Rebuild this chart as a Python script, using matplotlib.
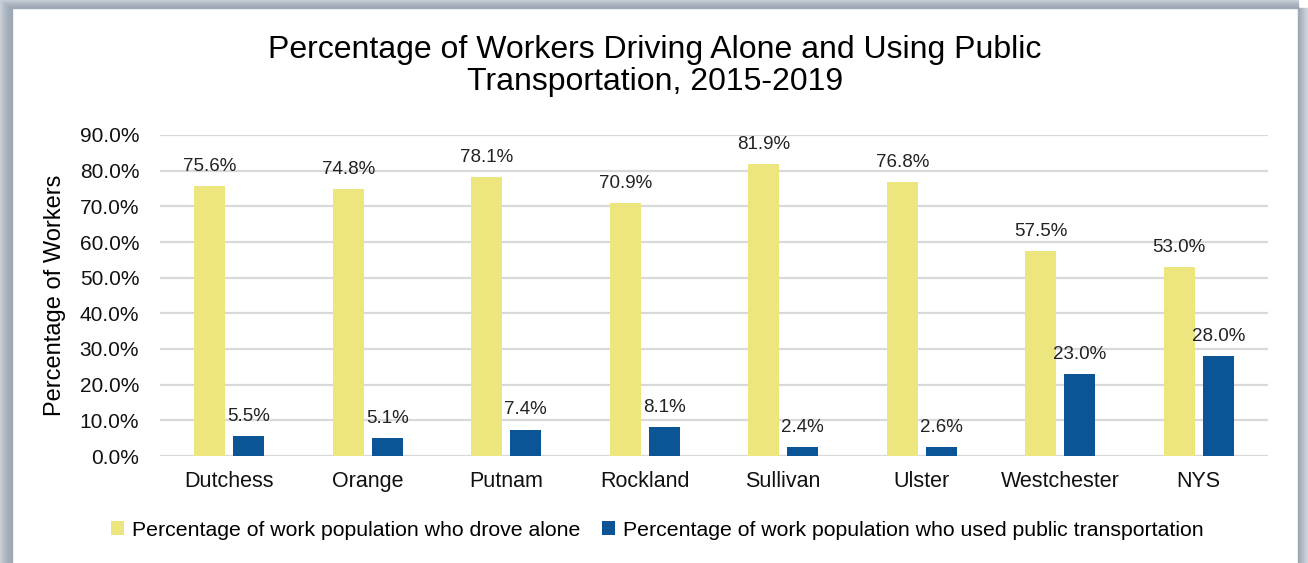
import matplotlib
matplotlib.use("Agg")
import matplotlib.pyplot as plt
import numpy as np
from matplotlib.patches import Rectangle
from matplotlib.ticker import FuncFormatter

plt.rcParams["font.family"] = ["Liberation Sans", "DejaVu Sans"]

counties = ["Dutchess", "Orange", "Putnam", "Rockland", "Sullivan", "Ulster", "Westchester", "NYS"]
drove_alone = [75.6, 74.8, 78.1, 70.9, 81.9, 76.8, 57.5, 53.0]
public_trans = [5.5, 5.1, 7.4, 8.1, 2.4, 2.6, 23.0, 28.0]

YEL = "#ede67e"
BLU = "#0b5495"

W, H = 1308, 563
fig = plt.figure(figsize=(W / 100, H / 100), dpi=100)

# grey frame around the chart
for i, c in enumerate(["#c7ced6", "#bcc4cd", "#b2bbc5", "#a9b3be", "#a3adb9", "#9fa9b5"]):
    fig.patches.append(Rectangle((i * 2 / W, 0), 2 / W, 1 - i * 1.4 / H, transform=fig.transFigure,
                                 color=c, zorder=0))
    fig.patches.append(Rectangle((i * 2 / W, 1 - (i + 1) * 1.4 / H), 1 - i * 2 / W - 10 / W, 1.4 / H,
                                 transform=fig.transFigure, color=c, zorder=0))
for i, c in enumerate(["#9fa9b5", "#aab3be", "#b6bec7", "#c2c9d0", "#ced3d9"]):
    fig.patches.append(Rectangle(((1298 + i * 2) / W, 0), 2 / W, 1 - 8 / H, transform=fig.transFigure,
                                 color=c, zorder=0))

ax = fig.add_axes([160 / W, 107 / H, 1108 / W, 321 / H])
x = np.arange(len(counties))
bw = 0.224
b1 = ax.bar(x - 0.141, drove_alone, bw, color=YEL, zorder=3)
b2 = ax.bar(x + 0.141, public_trans, bw, color=BLU, zorder=3)

for rect, v in zip(b1, drove_alone):
    ax.annotate(f"{v:.1f}%", (rect.get_x() + rect.get_width() / 2, v), xytext=(0, 8),
                textcoords="offset points", ha="center", va="bottom", fontsize=13.5, color="#222222")
for rect, v in zip(b2, public_trans):
    ax.annotate(f"{v:.1f}%", (rect.get_x() + rect.get_width() / 2, v), xytext=(0, 8),
                textcoords="offset points", ha="center", va="bottom", fontsize=13.5, color="#222222")

ax.set_xlim(-0.5, len(counties) - 0.5)
ax.set_ylim(0, 90)
ax.set_yticks(np.arange(0, 91, 10))
ax.yaxis.set_major_formatter(FuncFormatter(lambda v, p: f"{v:.1f}%"))
ax.set_xticks(x)
ax.set_xticklabels(counties)
ax.tick_params(axis="both", length=0, colors="#111111")
ax.tick_params(axis="y", pad=15, labelsize=15)
ax.tick_params(axis="x", pad=11, labelsize=15.5)
ax.grid(axis="y", color="#d9d9d9", linewidth=1.6, zorder=0)
for s in ax.spines.values():
    s.set_visible(False)
ax.set_ylabel("Percentage of Workers", fontsize=17, labelpad=10)

fig.text(655 / W, 1 - 66 / H, "Percentage of Workers Driving Alone and Using Public\nTransportation, 2015-2019",
         ha="center", va="center", fontsize=23, linespacing=1.1)

leg = fig.legend([b1, b2], ["Percentage of work population who drove alone",
                            "Percentage of work population who used public transportation"],
                 loc="center", bbox_to_anchor=(657 / W, 1 - 530 / H), ncol=2, frameon=False,
                 fontsize=15.3, handlelength=0.65, handleheight=0.65, handletextpad=0.35, columnspacing=1.0)

fig.savefig("out.png", dpi=100, facecolor="white")
